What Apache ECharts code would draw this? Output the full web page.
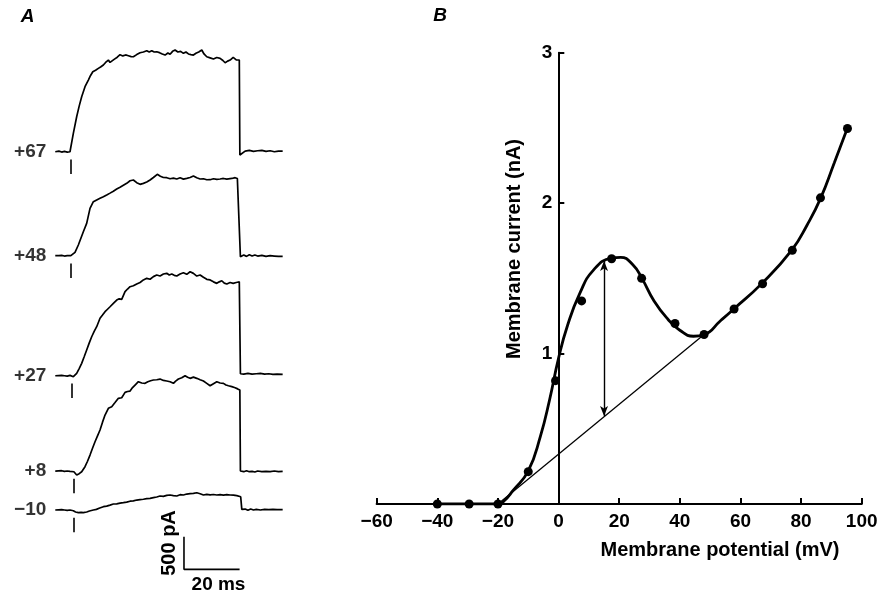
<!DOCTYPE html>
<html>
<head>
<meta charset="utf-8">
<script src="https://cdn.jsdelivr.net/npm/echarts@6/dist/echarts.min.js"></script>
<style>html,body{margin:0;padding:0;background:#fff}#c{width:888px;height:595px}</style>
</head>
<body>
<div id="c"></div>
<script>
// ---------- Panel A : current traces (t in ms, I in pA) ----------
const traceLabels = ['+67', '+48', '+27', '+8', '\u221210'];
const traceOffsets = [5496, 3901, 2060, 598, 0];
const stepTimes = [0.3, 0.3, 0.8, 1.4, 1.4];
const trace67 = [[-5.3,0],[-4,10],[-3,-5],[-2,5],[-1,-5],[0,0],[1.2,282],[2.4,537],[3.3,700],[4.2,844],[5.4,997],[6.6,1100],[7.4,1170],[8.2,1227],[9.2,1250],[10.2,1279],[11,1300],[12,1330],[12.8,1370],[13.8,1407],[14.4,1370],[15,1381],[16,1420],[17,1450],[18,1488],[19,1470],[20,1485],[21,1473],[22,1460],[22.8,1457],[24,1490],[25.2,1519],[26.4,1530],[27.6,1549],[28.5,1530],[29.4,1550],[30.3,1530],[31.2,1534],[32.2,1520],[33.2,1500],[34.2,1483],[35.2,1515],[36,1495],[36.9,1540],[37.8,1560],[38.8,1530],[39.8,1540],[40.8,1509],[41.7,1530],[42.6,1500],[43.5,1490],[44.4,1483],[45.3,1510],[46.3,1530],[47.4,1560],[48.2,1500],[49.2,1457],[50.4,1440],[51.6,1422],[52.8,1445],[54,1433],[55,1400],[55.8,1365],[56.7,1390],[57.6,1407],[58.7,1448],[59.8,1410],[60.9,1407],[61.1,-50],[61.8,-20],[63,10],[64.5,20],[66,5],[67.5,15],[69,20],[70.5,5],[72,15],[73.5,0],[75,10],[76.5,10]];
const trace48 = [[-5.3,0],[-4,0],[-3,5],[-2,-5],[-1,0],[0.3,0],[1.8,52],[3,164],[4.8,368],[6,497],[7.2,727],[8.4,828],[9.6,855],[10.8,880],[12,905],[13.2,931],[14.4,960],[15.6,990],[16.8,1023],[18,1050],[19.2,1080],[20.4,1110],[21.6,1150],[22.8,1161],[24,1120],[25.2,1095],[26.4,1110],[27.6,1130],[28.8,1161],[30,1200],[31.4,1249],[32.5,1220],[33.6,1200],[34.8,1197],[36,1180],[37.2,1190],[38.4,1177],[39.6,1195],[40.8,1175],[42,1187],[43.2,1200],[44.4,1223],[45.6,1195],[46.8,1177],[48,1180],[49.2,1165],[50.4,1166],[51.6,1180],[52.8,1170],[54,1177],[55.2,1185],[56.4,1175],[57,1197],[58.2,1185],[59.4,1197],[60.2,1185],[60.9,1161],[61.3,-15],[62.5,10],[63.5,-10],[64.5,15],[65.5,-5],[66.5,10],[67.5,-5],[69,5],[70.5,-10],[72,0],[73.5,-5],[75,-10],[76.5,-10]];
const trace27 = [[-5.3,0],[-3,5],[-2,0],[-1,-5],[0,5],[1.2,-15],[2.4,37],[3.3,110],[4.2,190],[5.1,290],[6,394],[6.9,500],[7.8,598],[8.7,680],[9.6,752],[10.8,881],[11.7,930],[12.6,982],[13.5,1020],[14.4,1058],[15.6,1110],[16.8,1161],[17.7,1180],[18.6,1172],[19.8,1289],[20.7,1330],[21.6,1365],[22.8,1380],[24,1407],[25.2,1430],[26.4,1470],[27.6,1494],[28.8,1480],[30,1520],[31.2,1545],[32.4,1530],[33.6,1560],[34.8,1571],[35.7,1545],[36.6,1560],[37.5,1540],[38.4,1529],[39.6,1560],[40.8,1580],[42,1555],[43.2,1595],[44.4,1570],[45.6,1529],[46.8,1545],[48,1510],[49.2,1479],[50.4,1470],[51.6,1440],[52.8,1417],[53.7,1440],[54.6,1457],[55.5,1420],[56.4,1407],[57.6,1430],[58.7,1417],[59.8,1430],[60.9,1442],[61.3,30],[62.5,25],[64,35],[65.5,25],[67,30],[68.5,35],[70,25],[71.5,30],[73,20],[74.5,25],[76.5,20]];
const trace8 = [[-5.3,0],[-3,5],[-2,-5],[-1,0],[0,-5],[1.4,-11],[2.4,-61],[3.3,-40],[4.2,-11],[5.4,66],[6.3,150],[7.2,245],[8.1,350],[9,449],[9.9,540],[10.8,629],[11.7,750],[12.6,859],[13.8,962],[15,986],[16.2,1050],[17.4,1115],[18.6,1124],[19.8,1207],[20.7,1220],[21.6,1227],[22.5,1280],[23.4,1319],[24.6,1370],[25.8,1350],[27,1345],[28,1370],[29,1385],[30,1396],[31.2,1400],[32.4,1411],[33.6,1390],[34.8,1381],[36,1370],[37.2,1345],[38,1380],[39,1411],[40.2,1430],[41.4,1462],[42.3,1440],[43.2,1422],[44.4,1440],[45.6,1422],[46.8,1400],[48,1380],[49.2,1345],[50.4,1309],[51.6,1340],[52.8,1370],[54,1350],[55.2,1345],[56.1,1320],[57,1309],[58.2,1295],[59.4,1278],[60.3,1260],[61.1,1243],[61.3,0],[62.5,-10],[63.5,5],[64.5,-10],[65.5,-5],[66.5,-15],[67.5,0],[69,-10],[70.5,-5],[72,-10],[73.5,0],[75,-10],[76.5,-5]];
const traceM10 = [[-5.3,0],[-3,5],[-2,0],[-1,-5],[0,0],[1.2,-11],[2,-30],[3,-41],[4,-35],[4.8,-41],[6,-30],[7,-15],[8.4,0],[9.5,10],[10.7,30],[12,51],[13.2,60],[14.4,75],[15.6,92],[16.8,95],[18,105],[19.2,112],[20.4,120],[21.6,135],[22.8,140],[24,153],[25.2,160],[26.4,165],[27.6,175],[28.8,179],[30,190],[31.2,200],[32.4,215],[33.6,210],[34.8,225],[36,230],[37.2,222],[38.4,215],[39.6,235],[40.8,230],[42,245],[43.2,250],[44.4,255],[45.6,265],[46.8,250],[48,230],[49.2,240],[50.4,232],[51.6,238],[52.8,230],[54,235],[55.2,228],[56.4,235],[57.6,230],[58.8,228],[60,220],[60.5,215],[61.4,204],[61.8,10],[63,15],[64,-5],[65,15],[66,0],[67,10],[68.5,0],[70,10],[71.5,5],[73,10],[74.5,5],[76.5,5]];
const traces = [trace67, trace48, trace27, trace8, traceM10];
const scaleBarT = [41, 41, 61];
const scaleBarI = [-410, -910, -910];

// ---------- Panel B : I-V relation ----------
const pointsV = [-40, -29.5, -20, -10, -1, 7.6, 17.5, 27.4, 38.4, 48, 57.9, 67.3, 77.1, 86.4, 95.3];
const pointsI = [0, 0, 0, 0.215, 0.82, 1.35, 1.63, 1.50, 1.20, 1.127, 1.296, 1.464, 1.686, 2.035, 2.496];
const curveV = [-40, -20, -18, -15, -10, -6, -3, 0, 3, 7, 11.5, 17.5, 20.5, 24.5, 27.5, 31.5, 36, 40, 44.5, 48, 53.5, 58, 67, 77, 82, 86.5, 91, 95.3];
const curveI = [0, 0, 0.02, 0.09, 0.22, 0.45, 0.69, 0.97, 1.19, 1.40, 1.555, 1.635, 1.64, 1.59, 1.50, 1.35, 1.23, 1.155, 1.115, 1.125, 1.22, 1.30, 1.465, 1.69, 1.855, 2.035, 2.27, 2.50];
const leakV = [-20, 48];
const leakI = [0, 1.127];
const arrowV = 15;
const arrowI = [0.585, 1.615];
const xTicks = [-60, 100, 20];
const yTicks = [0, 3, 1];

const FONT = '"Liberation Sans", Arial, Helvetica, sans-serif';
const chart = echarts.init(document.getElementById('c'), null, {renderer: 'canvas'});

const series = [];
traces.forEach((tr, k) => {
  const off = traceOffsets[k];
  series.push({
    type: 'line', xAxisIndex: 0, yAxisIndex: 0, data: tr.map(p => [p[0], p[1] + off]),
    showSymbol: false, symbol: 'none',
    lineStyle: {color: '#000', width: 1.7}, silent: true,
    markLine: {silent: true, symbol: 'none', label: {show: false},
      lineStyle: {color: '#000', width: 1.6, type: 'solid'},
      data: [[{coord: [stepTimes[k], off - 120]}, {coord: [stepTimes[k], off - 340]}]]}
  });
});
// trace labels
series.push({
  type: 'scatter', xAxisIndex: 0, yAxisIndex: 0, symbolSize: 0, silent: true,
  data: traces.map((tr, k) => ({value: [tr[0][0], tr[0][1] + traceOffsets[k]], name: traceLabels[k]})),
  label: {show: true, position: 'left', distance: 9, formatter: p => p.name,
    color: '#000', fontFamily: FONT, fontWeight: 'bold', fontSize: 19}
});
series.push({
  type: 'line', xAxisIndex: 0, yAxisIndex: 0, symbol: 'none',
  data: scaleBarT.map((t, i) => [t, scaleBarI[i]]),
  lineStyle: {color: '#000', width: 1.6}, silent: true
});
// Panel B
series.push({
  type: 'line', xAxisIndex: 1, yAxisIndex: 1, symbol: 'none',
  data: leakV.map((v, i) => [v, leakI[i]]),
  lineStyle: {color: '#000', width: 1.3}, silent: true, z: 3,
  markLine: {silent: true, symbol: ['arrow', 'arrow'], symbolSize: [6, 10], label: {show: false},
    lineStyle: {color: '#000', width: 1.4, type: 'solid'},
    data: [[{coord: [arrowV, arrowI[0]]}, {coord: [arrowV, arrowI[1]]}]]}
});
series.push({
  type: 'line', xAxisIndex: 1, yAxisIndex: 1, symbol: 'none', smooth: 0.5,
  data: curveV.map((v, i) => [v, curveI[i]]),
  lineStyle: {color: '#000', width: 2.8}, silent: true, z: 4
});
series.push({
  type: 'scatter', xAxisIndex: 1, yAxisIndex: 1, symbol: 'circle', symbolSize: 9,
  data: pointsV.map((v, i) => [v, pointsI[i]]),
  itemStyle: {color: '#000', opacity: 1}, silent: true, z: 5
});

const txt = (text, x, y, size, extra) => Object.assign({
  type: 'text', x: x, y: y, silent: true,
  style: {text: text, fill: '#000', font: 'bold ' + size + 'px ' + FONT,
    align: 'center', verticalAlign: 'middle', textAlign: 'center', textVerticalAlign: 'middle'}
}, extra || {});

chart.setOption({
  animation: false,
  backgroundColor: '#fff',
  grid: [
    {left: 53.32, width: 227.96, top: 21.1, height: 554.1},
    {left: 376.7, width: 485, top: 52.7, height: 451.3}
  ],
  xAxis: [
    {gridIndex: 0, type: 'value', min: -6, max: 76, show: false},
    {gridIndex: 1, type: 'value', min: xTicks[0], max: xTicks[1], interval: xTicks[2],
      splitLine: {show: false},
      axisLine: {show: true, onZero: true, lineStyle: {color: '#000', width: 2.2}},
      axisTick: {show: true, inside: true, length: 6, lineStyle: {color: '#000', width: 2}},
      axisLabel: {color: '#000', fontFamily: FONT, fontWeight: 'bold', fontSize: 19, margin: 8,
        formatter: v => v < 0 ? '\u2212' + Math.abs(v) : String(v)}}
  ],
  yAxis: [
    {gridIndex: 0, type: 'value', min: -1000, max: 7500, show: false},
    {gridIndex: 1, type: 'value', min: yTicks[0], max: yTicks[1], interval: yTicks[2],
      position: 'left', offset: -181.6,
      splitLine: {show: false},
      axisLine: {show: true, onZero: false, lineStyle: {color: '#000', width: 2}},
      axisTick: {show: true, inside: true, length: 6, lineStyle: {color: '#000', width: 2}},
      axisLabel: {color: '#000', fontFamily: FONT, fontWeight: 'bold', fontSize: 19, margin: 6,
        formatter: v => v === 0 ? '' : String(v)}}
  ],
  graphic: [
    {type: 'text', x: 27.5, y: 16.5, silent: true, style: {text: 'A', fill: '#000', font: 'italic bold 19px ' + FONT, align: 'center', verticalAlign: 'middle'}},
    {type: 'text', x: 440, y: 16, silent: true, style: {text: 'B', fill: '#000', font: 'italic bold 19px ' + FONT, align: 'center', verticalAlign: 'middle'}},
    txt('20 ms', 218.5, 585, 19),
    txt('500 pA', 169.5, 543, 20, {rotation: Math.PI / 2}),
    txt('Membrane potential (mV)', 720, 550, 20),
    txt('Membrane current (nA)', 514, 249, 20, {rotation: Math.PI / 2})
  ],
  series: series
});
</script>
</body>
</html>
